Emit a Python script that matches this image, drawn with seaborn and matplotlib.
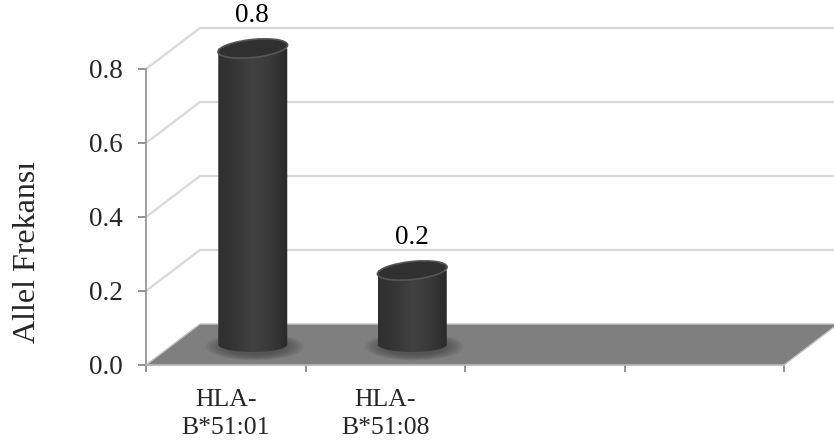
import numpy as np
import matplotlib as mpl
mpl.use('Agg')

import matplotlib.pyplot as plt
from matplotlib.colors import LinearSegmentedColormap
from matplotlib.patches import Ellipse, Polygon
from matplotlib.path import Path
from matplotlib.transforms import Affine2D, IdentityTransform
import seaborn as sns

categories = ["HLA-\nB*51:01", "HLA-\nB*51:08"]
values = [0.8, 0.2]
y_ticks = [0.0, 0.2, 0.4, 0.6, 0.8]
y_title = "Allel Frekansı"
n_slots = 4

# pixel layout of the fake 3d box
W, H = 834, 446
x0_px, y0_px = 146, 81
slot_px, unit_px = 159.5, 370
depth_x, depth_y = 54, 41

sns.set_style("white")
plt.rcParams['font.family'] = ['Liberation Serif', 'DejaVu Serif']

fig = plt.figure(figsize=(W / 100, H / 100), dpi=100)
ax = fig.add_axes([0, 0, 1, 1])
ax.patch.set_alpha(0)

sns.barplot(x=categories, y=values, color="#333333", saturation=1,
            width=69 / slot_px, ax=ax, zorder=3)

x_lo = -0.5 - x0_px / slot_px
y_lo = -y0_px / unit_px
ax.set_xlim(x_lo, x_lo + W / slot_px)
ax.set_ylim(y_lo, y_lo + H / unit_px)

dx = depth_x / slot_px
dy = depth_y / unit_px
left, right = -0.5, n_slots - 0.5

# side wall and back wall lines
for v in y_ticks[1:]:
    ax.plot([left, left + dx, right + dx], [v, v + dy, v + dy],
            color="#d9d9d9", lw=1.6, zorder=1, solid_joinstyle='miter')

# floor
ax.add_patch(Polygon([(left, 0), (right, 0), (right + dx, dy), (left + dx, dy)],
                     closed=True, facecolor="#7f7f7f", edgecolor="#c4c4c4",
                     lw=1.0, zorder=1.5))

# axes
for s in ['top', 'right']:
    ax.spines[s].set_visible(False)
ax.spines['left'].set_position(('data', left))
ax.spines['bottom'].set_position(('data', 0))
ax.spines['left'].set_bounds(0, y_ticks[-1])
ax.spines['bottom'].set_bounds(left, right)
ax.spines['left'].set_color("#909090")
ax.spines['left'].set_linewidth(1.2)
ax.spines['bottom'].set_color("#b4b4b4")
ax.spines['bottom'].set_linewidth(1.2)
ax.spines['left'].set_zorder(4)
ax.spines['bottom'].set_zorder(4)

ax.set_yticks(y_ticks, [f"{t:.1f}" for t in y_ticks])
ax.set_xticks(np.arange(n_slots + 1) - 0.5, [""] * (n_slots + 1))
ax.set_xticks(range(len(categories)), categories, minor=True)
ax.tick_params(axis='y', direction='out', length=6, width=1.2, color="#808080",
               pad=11, labelsize=19.5, left=True)
ax.tick_params(axis='x', which='major', direction='out', length=5, width=1.2,
               color="#808080", bottom=True)
ax.tick_params(axis='x', which='minor', length=0, pad=17, labelsize=18.5)
for lab in ax.get_xticklabels(minor=True):
    lab.set_linespacing(1.4)
ax.set_ylabel(y_title, fontsize=23)
ax.yaxis.label.set_va('center')
ax.yaxis.set_label_coords(28 / W, 0.435)

cyl_cmap = LinearSegmentedColormap.from_list(
    "cyl", ["#2f2f2f", "#363636", "#424242", "#3a3a3a", "#2a2a2a"])
shift = Affine2D().translate(depth_x / 2, depth_y / 2)
fig.canvas.draw()
identity = IdentityTransform()

for bar, v in zip(ax.patches, values):
    bar.set_transform(ax.transData + shift)
    bar.set_clip_on(False)
    xa, xb = bar.get_x(), bar.get_x() + bar.get_width()
    (pa, pb), (pc, pd) = ax.transData.transform([(xa, 0), (xb, v)]) + [depth_x / 2, depth_y / 2]
    cx = (pa + pc) / 2
    half = (pc - pa) / 2

    # soft contact shadow on the floor
    for k in np.linspace(1.0, 0.6, 14):
        ax.add_patch(Ellipse((cx + 2, pb - 2), (2 * half + 30) * k, 28 * k,
                             facecolor="#444444", edgecolor='none', alpha=0.07,
                             transform=identity, zorder=2))

    # body shading, clipped to a rounded bottom
    theta = np.linspace(np.pi, 2 * np.pi, 40)
    verts = np.column_stack([cx + half * np.cos(theta), pb + 7.5 * np.sin(theta)])
    verts = np.vstack([[pa, pd], verts, [pc, pd], [pa, pd]])
    bar.set_visible(False)
    img = ax.imshow(np.linspace(0, 1, 64)[None, :], cmap=cyl_cmap, aspect='auto',
                    extent=(pa, pc, pb - 9, pd), transform=identity, zorder=3,
                    interpolation='bilinear')
    img.set_clip_path(Path(verts), identity)

    # top cap
    ax.add_patch(Ellipse((cx, pd), 2 * half + 1, 18, angle=6, facecolor="#303030",
                         edgecolor="#565656", lw=1.2, transform=identity, zorder=3.2))

    ax.annotate(f"{v:.1f}", xy=(bar.get_x() + bar.get_width() / 2, v),
                xytext=(depth_x / 2 * 0.7, 38.5), textcoords='offset points',
                ha='center', va='center', fontsize=19.5, color='black', zorder=5)

ax.set_xlim(x_lo, x_lo + W / slot_px)
ax.set_ylim(y_lo, y_lo + H / unit_px)

fig.savefig("out.png", dpi=100)
